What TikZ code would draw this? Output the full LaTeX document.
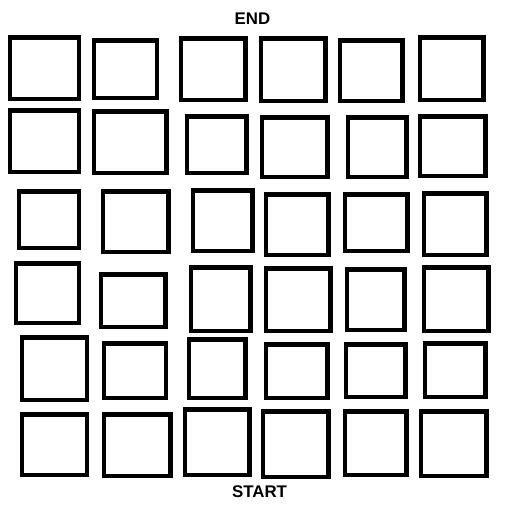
\documentclass[tikz,border=0pt]{standalone}
\usepackage{fontspec}
\setmainfont{Liberation Sans}
\usetikzlibrary{positioning}

\begin{document}
\begin{tikzpicture}[
      x=0.02cm, y=-0.02cm,
      box/.style={rectangle, draw=black, line width=0.09cm, inner sep=0pt},
      tag/.style={font=\fontsize{9.6}{11}\selectfont\bfseries, inner sep=0pt}
    ]
    \useasboundingbox (0,0) rectangle (512,512);
    % outer edges of each square, in pixels: row/col/left/top/right/bottom
    \foreach \r/\c/\xa/\ya/\xb/\yb in {
        1/1/8/35/81/101, 1/2/92/38/159/100, 1/3/179/36/248/102,
        1/4/259/36/328/103, 1/5/338/38/405/103, 1/6/418/35/486/102,
        2/1/8/108/81/174, 2/2/92/109/169/175, 2/3/185/114/249/175,
        2/4/260/115/330/179, 2/5/346/115/409/179, 2/6/418/114/488/178,
        3/1/17/189/81/250, 3/2/101/189/171/254, 3/3/191/188/255/253,
        3/4/264/192/331/257, 3/5/343/192/410/253, 3/6/422/191/489/257,
        4/1/14/261/81/325, 4/2/99/272/168/329, 4/3/189/265/253/333,
        4/4/264/266/333/333, 4/5/345/267/407/332, 4/6/422/265/491/333,
        5/1/20/335/89/402, 5/2/102/341/168/400, 5/3/187/337/248/400,
        5/4/264/342/330/400, 5/5/344/342/408/399, 5/6/423/341/488/399,
        6/1/20/412/89/477, 6/2/102/412/173/478, 6/3/183/407/252/477,
        6/4/261/409/331/479, 6/5/343/409/409/477, 6/6/419/409/489/478} {
      \node[box, minimum width={(\xb-\xa-4.5)*0.02cm},
        minimum height={(\yb-\ya-4.5)*0.02cm}]
        (sq\r\c) at ({(\xa+\xb)/2},{(\ya+\yb)/2}) {};
    }
    \node[tag] (end) at (252.5,19) {END};
    \node[tag] (start) at (259.5,491.5) {START};
  \end{tikzpicture}
\end{document}
